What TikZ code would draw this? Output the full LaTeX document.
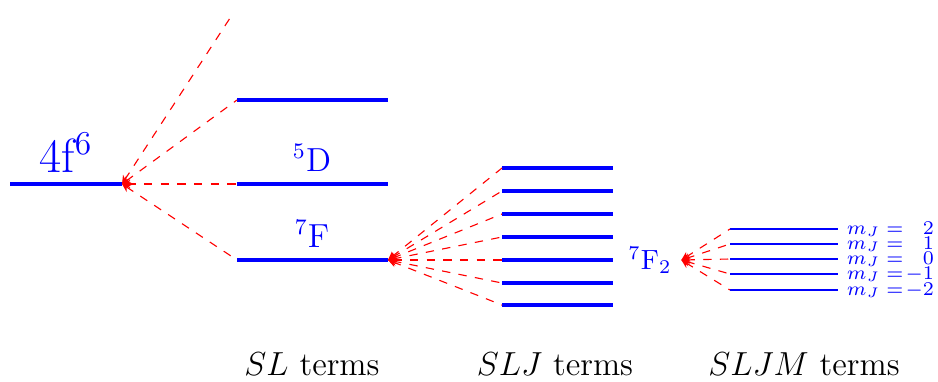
\documentclass[tikz,border=0pt]{standalone}
\usepackage{tikz}
\usetikzlibrary{arrows.meta}
\tikzset{
  lvl/.style={draw=blue,line width=1.5pt},
  sublvl/.style={draw=blue,line width=0.7pt},
  split/.style={{Stealth[length=3pt,width=3pt]}-,draw=red,dashed,thin},
  termlbl/.style={text=blue,font=\large,anchor=base},
  mj/.style={text=blue,font=\scriptsize,anchor=west,inner sep=0pt,text height=4.4pt,text depth=0.8pt},
  colhead/.style={font=\large,anchor=base},
}

\begin{document}
\begin{tikzpicture}[x=0.36pt,y=-0.36pt]
  \useasboundingbox (0,0) rectangle (938,381);
  % configuration
  \coordinate (cfgL) at (10,184);
  \coordinate (cfg) at (122,184);
  \draw[lvl] (cfgL) -- (cfg);
  \node[termlbl,font=\LARGE] (cfgtxt) at (66,172) {4f$^6$};
  % SL terms
  \foreach \name/\y in {top/100,d5/184,f7/260} {
    \coordinate (\name L) at (237,\y);
    \coordinate (\name R) at (388,\y);
    \draw[lvl] (\name L) -- (\name R);
  }
  \node[termlbl] (d5txt) at (312,171) {$^5$D};
  \node[termlbl] (f7txt) at (312,247) {$^7$F};
  \coordinate (up) at (232,15);
  \foreach \t in {up,topL,d5L,f7L}
    \draw[split] (cfg) -- (\t);
  % SLJ terms
  \foreach \i/\y in {1/168,2/191,3/214,4/237,5/260,6/283,7/305} {
    \coordinate (j\i L) at (502,\y);
    \coordinate (j\i R) at (613,\y);
    \draw[lvl] (j\i L) -- (j\i R);
    \draw[split] (f7R) -- (j\i L);
  }
  % SLJM terms
  \node[text=blue] (f72txt) at (650,260) {$^7$F$_2$};
  \foreach \i/\y/\v in {1/229/2,2/244/1,3/259/0,4/274/-1,5/290/-2} {
    \coordinate (m\i L) at (730,\y);
    \coordinate (m\i R) at (838,\y);
    \draw[sublvl] (m\i L) -- (m\i R);
    \draw[split] (f72txt.east) -- (m\i L);
    \node[mj] (mj\i) at (m\i R) {\hspace{3pt}$m_J = \makebox[1.25em][r]{$\v$}$};
  }
  \node[colhead] (slcap) at (312,375) {$SL$ terms};
  \node[colhead] (sljcap) at (555,375) {$SLJ$ terms};
  \node[colhead] (sljmcap) at (804,375) {$SLJM$ terms};
\end{tikzpicture}
\end{document}
